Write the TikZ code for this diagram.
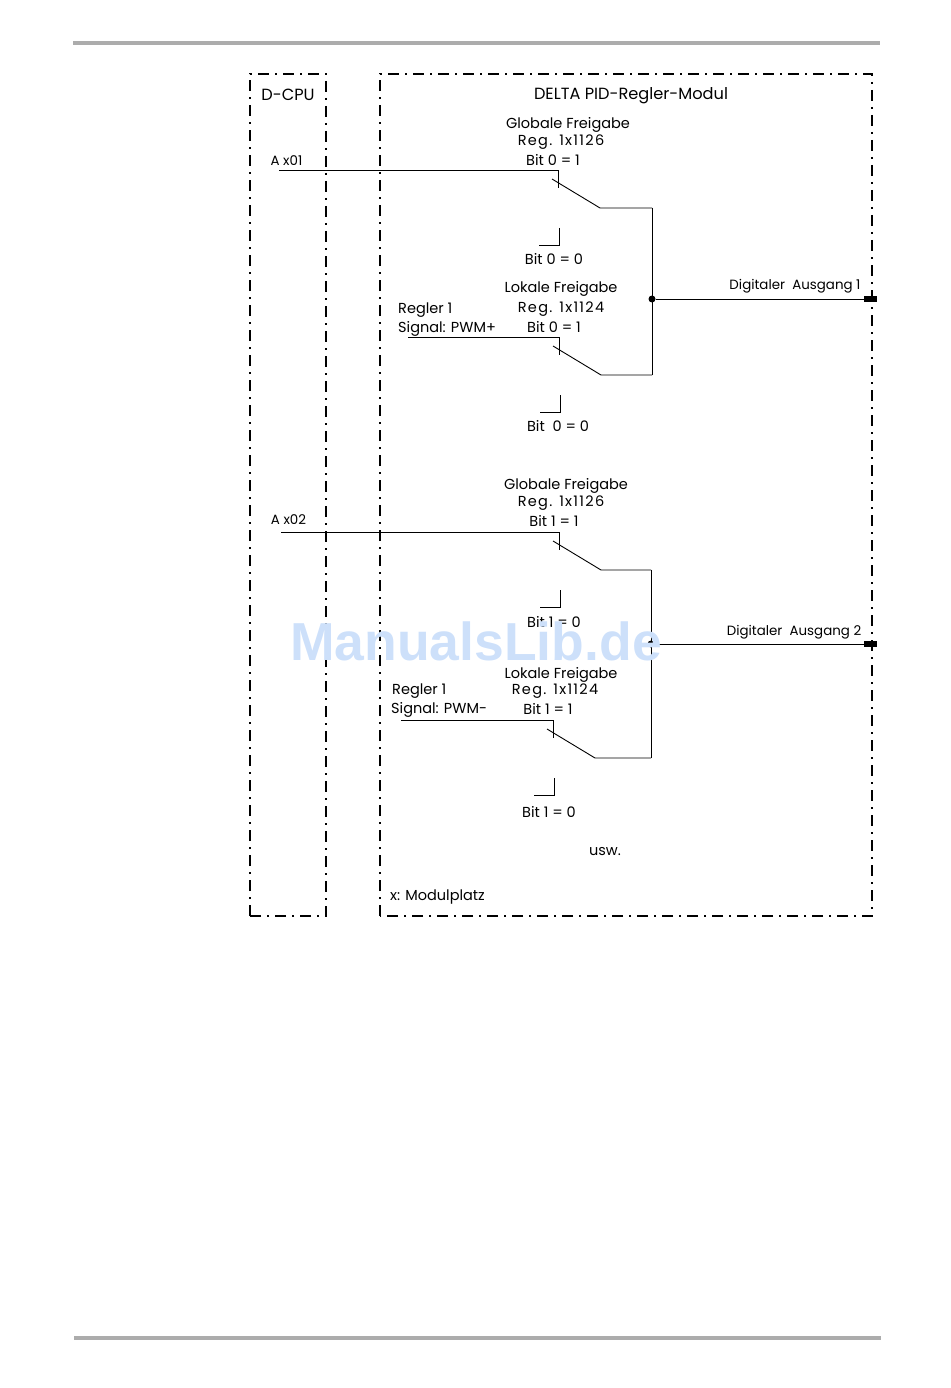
\documentclass[tikz,border=0pt]{standalone}
\usepackage{fontspec}
\setmainfont{Poppins}
\newfontfamily\markfont{Liberation Sans}
\newfontfamily\regfont[LetterSpace=9]{Poppins}
\usetikzlibrary{calc}
\usetikzlibrary{arrows.meta}
\definecolor{rulegray}{RGB}{172,172,172}
\definecolor{markblue}{RGB}{205,224,250}
\tikzset{
    frame/.style={black,line width=1.6pt,dash pattern=on 11pt off 6pt on 2pt off 6pt},
    wire/.style={black,line width=0.9pt},
    label/.style={inner sep=0pt,font=\fontsize{14.5}{16}\selectfont},
    head/.style={inner sep=0pt,font=\fontsize{16.2}{18}\selectfont},
    regno/.style={inner sep=0pt,font=\regfont\fontsize{14.5}{16}\selectfont},
    small/.style={inner sep=0pt,font=\fontsize{13.4}{15}\selectfont},
    rulebar/.style={rulegray,line width=3.5pt}
}
\begin{document}
\begin{tikzpicture}[x=1pt,y=-1pt]
    \useasboundingbox (0,0) rectangle (950,1388);

    % page rules
    \coordinate (ruleTL) at (73,43);
    \coordinate (ruleTR) at (880,43);
    \coordinate (ruleBL) at (74,1338);
    \coordinate (ruleBR) at (881,1338);
    \draw[rulebar](ruleTL)--(ruleTR);
    \draw[rulebar](ruleBL)--(ruleBR);

    % frames
    \draw[frame](250,916)--(250,74)--(326,74)--(326,916)--cycle;
    \draw[frame](380,916)--(380,74)--(872,74)--(872,916)--cycle;

    % switches: name/start x/contact x/contact y/bus x
    \foreach \s/\sx/\cx/\cy/\bx in {a/279/558/170/652,
                                    b/408/559/337/652,
                                    c/281/559/532/651,
                                    d/401/553/720/651}{
        \coordinate (\s-in) at (\sx,\cy);
        \coordinate (\s-top) at (\cx,\cy);
        \coordinate (\s-pin) at (\cx,\cy+18);
        \coordinate (\s-arm) at (\cx-6,\cy+9);
        \coordinate (\s-knee) at (\cx+42,\cy+38);
        \coordinate (\s-bus) at (\bx,\cy+38);
        \coordinate (\s-off) at (\cx+1,\cy+58);
        \coordinate (\s-cor) at (\cx+1,\cy+75);
        \coordinate (\s-end) at (\cx-19,\cy+75);
        \draw[wire](\s-in)--(\s-top)--(\s-pin);
        \draw[wire](\s-arm)--(\s-knee)--(\s-bus);
        \draw[wire](\s-off)--(\s-cor)--(\s-end);
    }

    % outputs
    \draw[wire](a-bus)--(b-bus);
    \draw[wire](c-bus)--(d-bus);
    \foreach \o/\y/\bx in {one/299/652,two/644/651}{
        \coordinate (\o-out) at (870,\y);
        \node[circle,fill=black,inner sep=0pt,minimum size=7pt] (\o-dot) at (\bx,\y) {};
        \draw[wire](\o-dot)--(\o-out);
        \fill[black] (864,\y-3) rectangle (877,\y+3);
    }

    % labels
    \node[head] (cpu) at (288,94.5) {D-CPU};
    \node[head] (mod) at (631,95.5) {DELTA PID-Regler-Modul};
    \foreach \n/\x/\y/\t in {ga/568/124.5/Globale Freigabe,
                             ba/553/160/Bit 0 = 1,
                             za/554/259/Bit 0 = 0,
                             gb/561/288.5/Lokale Freigabe,
                             bb/554/327/Bit 0 = 1,
                             zb/558/426/Bit~~0 = 0,
                             gc/566/485.5/Globale Freigabe,
                             bc/554/521/Bit 1 = 1,
                             zc/554/622/Bit 1 = 0,
                             gd/561/674.5/Lokale Freigabe,
                             bd/548/709/Bit 1 = 1,
                             zd/549/812/Bit 1 = 0,
                             us/605/851.5/usw.,
                             pl/437.5/897.5/x: Modulplatz}{
        \node[label] (\n) at (\x,\y) {\t};
    }
    \foreach \n/\x/\y/\t in {ra/561/142/Reg. 1x1126,
                             rb/561/309/Reg. 1x1124,
                             rc/561/503/Reg. 1x1126,
                             rd/555/691/Reg. 1x1124}{
        \node[regno] (\n) at (\x,\y) {\t};
    }
    \foreach \n/\x/\y/\t in {ax/286.5/160.5/A x01,
                             ay/288.5/519.5/A x02,
                             oa/795/286/Digitaler~~Ausgang 1,
                             ob/794/632.5/Digitaler~~Ausgang 2}{
        \node[small] (\n) at (\x,\y) {\t};
    }
    \foreach \n/\x/\y/\t in {ra1/398/310/Regler 1,
                             sa1/398/328.5/Signal: PWM+,
                             ra2/392/691/Regler 1,
                             sa2/391/709.5/Signal: PWM-}{
        \node[label,anchor=west] (\n) at (\x,\y) {\t};
    }

    % watermark
    \node[text=markblue,inner sep=0pt,font=\markfont\bfseries\fontsize{53.5}{58}\selectfont] (mark) at (476,641) {ManualsLib.de};
\end{tikzpicture}
\end{document}
